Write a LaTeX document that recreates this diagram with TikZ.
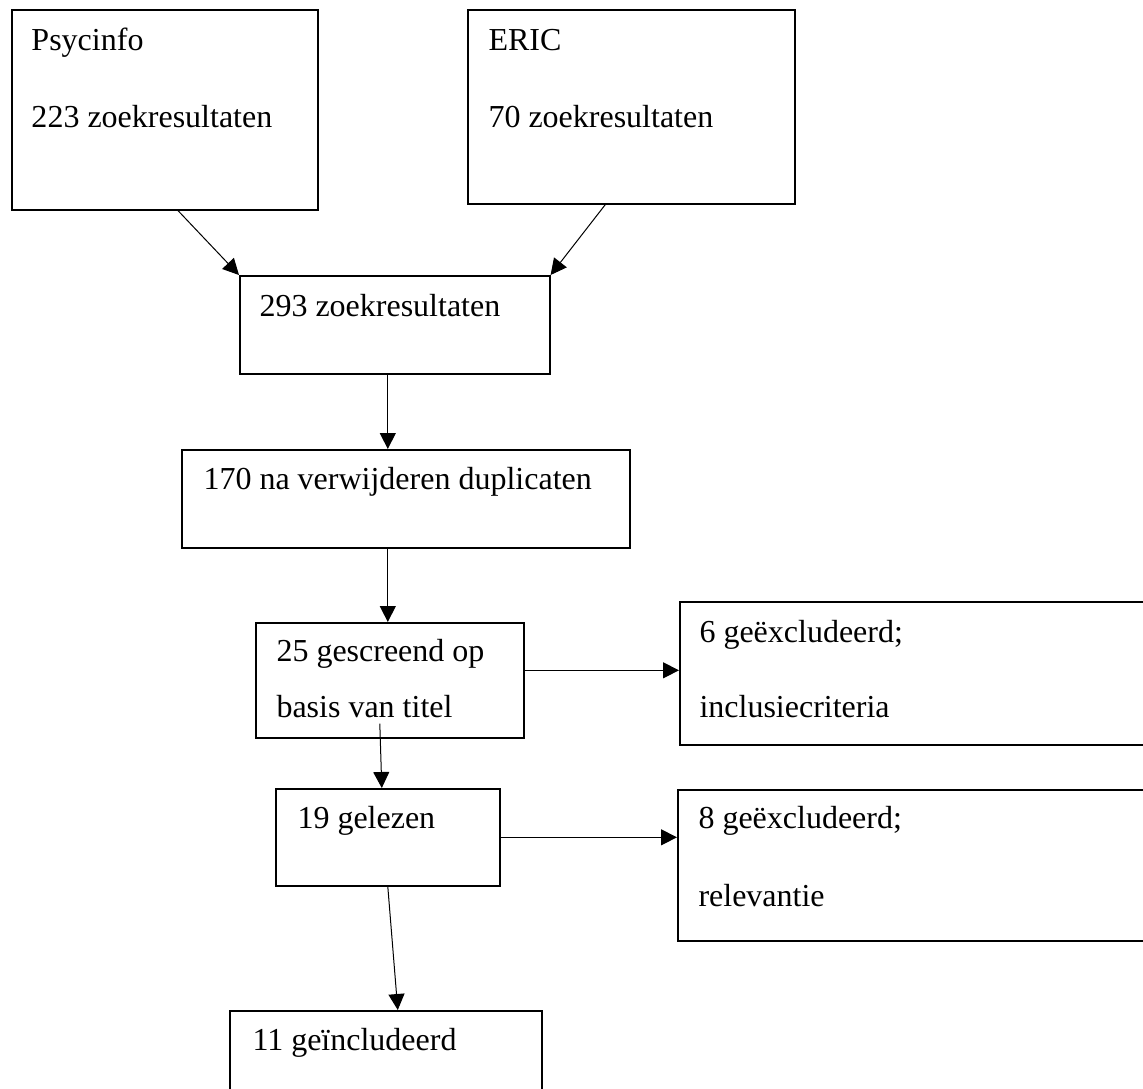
\documentclass[tikz,border=0pt]{standalone}
\usepackage{fontspec}
\setmainfont{Liberation Serif}
\usetikzlibrary{positioning, arrows.meta, calc}

\begin{document}
\begin{tikzpicture}[x=0.5pt, y=-0.5pt, ->, >={Triangle[length=8pt, width=8pt]}, line width=0.5pt,
    box/.style={draw, rectangle, anchor=north west, inner sep=0pt, line width=0.8pt},
    txt/.style={anchor=base west, inner sep=0pt, font=\fontsize{16}{19}\selectfont}]
    \useasboundingbox (0,0) rectangle (1143,1088);
    \node[box, minimum width=153pt, minimum height=100pt] (psy) at (11,9) {};
    \node[box, minimum width=163.5pt, minimum height=97pt] (eric) at (467,9) {};
    \node[box, minimum width=155pt, minimum height=49pt] (zoek) at (239,275) {};
    \node[box, minimum width=224pt, minimum height=49pt] (dup) at (181,449) {};
    \node[box, minimum width=134pt, minimum height=57.5pt] (scr) at (255,622) {};
    \node[box, minimum width=236pt, minimum height=71.5pt] (excl1) at (679,601) {};
    \node[box, minimum width=112pt, minimum height=48.5pt] (rd) at (275,788) {};
    \node[box, minimum width=237pt, minimum height=75.5pt] (excl2) at (677,789) {};
    \node[box, minimum width=156pt, minimum height=42pt] (incl) at (229,1010) {};

    \node[txt] (psyname) at (31,50) {Psycinfo};
    \node[txt] (psyn) at (31,127) {223 zoekresultaten};
    \node[txt] (ericname) at (488,50) {ERIC};
    \node[txt] (ericn) at (488,127) {70 zoekresultaten};
    \node[txt] (zoekn) at (259,316) {293 zoekresultaten};
    \node[txt] (dupn) at (203,489) {170 na verwijderen duplicaten};
    \node[txt] (scrn) at (276,661) {25 gescreend op};
    \node[txt] (scrb) at (276,717) {basis van titel};
    \node[txt] (excl1n) at (699,642) {6 geëxcludeerd;};
    \node[txt] (excl1r) at (699,717) {inclusiecriteria};
    \node[txt] (rdn) at (297,828) {19 gelezen};
    \node[txt] (excl2n) at (698,828) {8 geëxcludeerd;};
    \node[txt] (excl2r) at (698,906) {relevantie};
    \node[txt] (incln) at (252,1050) {11 geïncludeerd};

    \draw ($(psy.south west)+(167,0)$) -- (zoek.north west);
    \draw ($(eric.south)+(-26,0)$) -- (zoek.north east);
    \draw ($(zoek.south)+(-7,0)$) -- ($(dup.north)+(-18,0)$);
    \draw ($(dup.south)+(-18,0)$) -- ($(scr.north)+(-2,0)$);
    \path ([yshift=5pt]scr.east) coordinate (s1);
    \draw (s1) -- (s1 -| excl1.west);
    \draw ($(scr.south)+(-10,-15)$) -- ($(rd.north)+(-6,0)$);
    \draw (rd.east) -- (rd.east -| excl2.west);
    \draw (rd.south) -- ($(incl.north)+(12,0)$);
\end{tikzpicture}
\end{document}
